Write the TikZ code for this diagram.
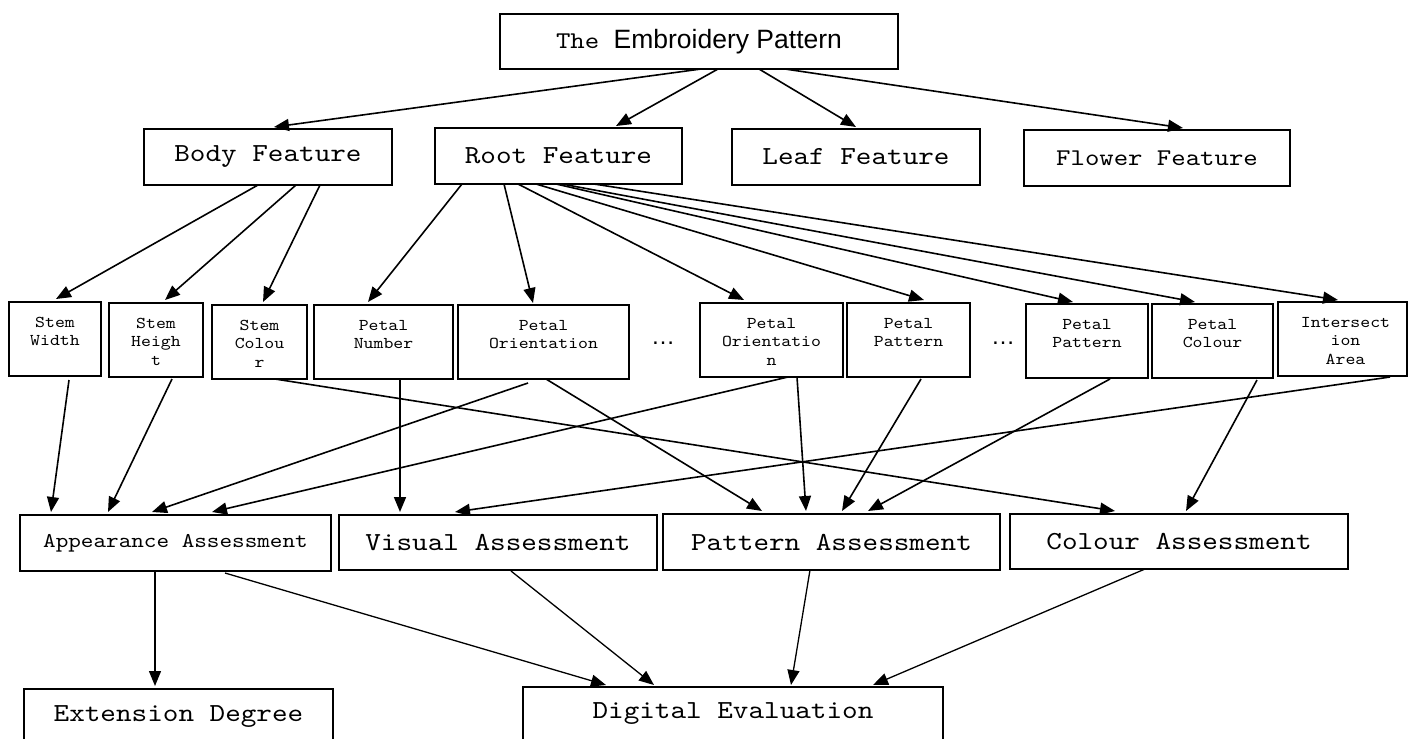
\documentclass[tikz,border=0pt]{standalone}
\usepackage{fontspec}
\newfontfamily\monof{lmmono10-regular}[Extension=.otf, FakeStretch=1.143]
\newfontfamily\sansf{Liberation Sans}
\usetikzlibrary{arrows.meta,calc}
\newcommand\mkbox[7]{\node[box,#6,minimum width={(#4-#2)*1bp},minimum height={(#5-#3)*1bp}] (#1) at ({(#2+#4)/2},{(#3+#5)/2}) {#7};}
\begin{document}
\begin{tikzpicture}[x=1bp,y=-1bp,
  box/.style={draw, line width=1.8bp, inner sep=0pt, outer sep=0pt, align=center},
  big/.style={font=\monof\fontsize{26bp}{30bp}\selectfont},
  flw/.style={font=\monof\fontsize{24bp}{28bp}\selectfont},
  apf/.style={font=\monof\fontsize{21bp}{25bp}\selectfont},
  midtxt/.style={font=\monof\fontsize{16.5bp}{18.5bp}\selectfont, align=center, inner sep=0pt, anchor=north},
  dotsty/.style={font=\sansf\fontsize{24bp}{28bp}\selectfont, inner sep=0pt, anchor=base},
  arr/.style={line width=1.6bp, -{Triangle[length=15bp,width=12bp]}},
  arrb/.style={line width=1.3bp, -{Triangle[length=15bp,width=12bp]}}]
\fill[white] (0,0) rectangle (1421,738);
\clip (0,0) rectangle (1421,738);
% top
\mkbox{top}{500}{14}{898}{69}{}{{\monof\fontsize{24bp}{28bp}\selectfont The\ }{\sansf\fontsize{26.5bp}{30bp}\selectfont Embroidery Pattern}}
% features
\mkbox{body}{144}{129}{392}{185}{big}{Body Feature}
\mkbox{root}{435}{128}{682}{184}{big}{Root Feature}
\mkbox{leaf}{732}{129}{980}{185}{big}{Leaf Feature}
\mkbox{flower}{1024}{130}{1290}{186}{flw}{Flower Feature}
% middle row
\mkbox{sw}{9}{302}{101}{376}{}{}
\mkbox{sh}{109}{303}{203}{377}{}{}
\mkbox{sc}{212}{305}{307}{379}{}{}
\mkbox{pn}{314}{305}{453}{379}{}{}
\mkbox{po}{458}{305}{629}{379}{}{}
\mkbox{pon}{700}{303}{843}{377}{}{}
\mkbox{pp}{847}{303}{970}{377}{}{}
\mkbox{ppb}{1026}{304}{1148}{378}{}{}
\mkbox{pc}{1152}{304}{1273}{378}{}{}
\mkbox{ia}{1278}{302}{1407}{376}{}{}
\node[midtxt] (swt) at ($(sw.north)+(0,15)$) {Stem\\Width};
\node[midtxt] (sht) at ($(sh.north)+(0,15)$) {Stem\\Heigh\\t};
\node[midtxt] (sct) at ($(sc.north)+(0,15)$) {Stem\\Colou\\r};
\node[midtxt] (pnt) at ($(pn.north)+(0,15)$) {Petal\\Number};
\node[midtxt] (pot) at ($(po.north)+(0,15)$) {Petal\\Orientation};
\node[midtxt] (pont) at ($(pon.north)+(0,15)$) {Petal\\Orientatio\\n};
\node[midtxt] (ppt) at ($(pp.north)+(0,15)$) {Petal\\Pattern};
\node[midtxt] (ppbt) at ($(ppb.north)+(0,15)$) {Petal\\Pattern};
\node[midtxt] (pct) at ($(pc.north)+(0,15)$) {Petal\\Colour};
\node[midtxt] (iat) at ($(ia.north)+(3,15)$) {Intersect\\ion\\Area};
\node[dotsty] (dotsa) at (663,344) {…};
\node[dotsty] (dotsb) at (1003,344) {…};
% assessments
\mkbox{app}{20}{515}{331}{571}{apf}{Appearance Assessment}
\mkbox{vis}{339}{515}{657}{570}{big}{Visual Assessment}
\mkbox{pat}{663}{514}{1000}{570}{big}{Pattern Assessment}
\mkbox{col}{1010}{514}{1348}{569}{big}{Colour Assessment}
% bottom
\mkbox{ext}{24}{689}{333}{745}{big}{Extension Degree}
\mkbox{dig}{523}{687}{943}{741}{big}{Digital Evaluation}
% top arrows
\draw[arr] ($(top.south west)+(201,0)$) -- ($(body.north west)+(130,-2)$);
\draw[arr] ($(top.south west)+(218,0)$) -- ($(root.north west)+(181,-2)$);
\draw[arr] ($(top.south west)+(259,0)$) -- ($(leaf.north west)+(124,-2)$);
\draw[arr] ($(top.south west)+(285,0)$) -- ($(flower.north west)+(159,-2)$);
% body arrows
\draw[arr] ($(body.south west)+(114,0)$) -- ($(sw.north west)+(47,-3)$);
\draw[arr] ($(body.south west)+(152,0)$) -- ($(sh.north west)+(56,-3)$);
\draw[arr] ($(body.south west)+(176,0)$) -- ($(sc.north west)+(51,-3)$);
% root arrows
\draw[arr] ($(root.south west)+(27,0)$) -- ($(pn.north west)+(54,-3)$);
\draw[arr] ($(root.south west)+(69,0)$) -- ($(po.north west)+(75,-2)$);
\draw[arr] ($(root.south west)+(83,0)$) -- ($(pon.north west)+(44,-3)$);
\draw[arr] ($(root.south west)+(101,0)$) -- ($(pp.north west)+(77,-3)$);
\draw[arr] ($(root.south west)+(121,0)$) -- ($(ppb.north west)+(47,-2)$);
\draw[arr] ($(root.south west)+(127,0)$) -- ($(pc.north west)+(43,-2)$);
\draw[arr] ($(root.south west)+(159,0)$) -- ($(ia.north west)+(60,-2)$);
% middle to assessments
\draw[arr] ($(sw.south west)+(60,4)$) -- ($(app.north west)+(31,-3)$);
\draw[arr] ($(sh.south west)+(63,2)$) -- ($(app.north west)+(88,-3)$);
\draw[arr] ($(sc.south west)+(63,0)$) -- ($(col.north west)+(105,-3)$);
\draw[arr] ($(pn.south west)+(86,0)$) -- ($(vis.north west)+(61,-3)$);
\draw[arr] ($(po.south west)+(70,4)$) -- ($(app.north west)+(132,-3)$);
\draw[arr] ($(po.south west)+(88,0)$) -- ($(pat.north west)+(99,-3)$);
\draw[arr] ($(pon.south west)+(88,0)$) -- ($(app.north west)+(192,-3)$);
\draw[arr] ($(pon.south west)+(97,0)$) -- ($(pat.north west)+(143,-3)$);
\draw[arr] ($(pp.south west)+(74,2)$) -- ($(pat.north west)+(179,-3)$);
\draw[arr] ($(ppb.south west)+(84,1)$) -- ($(pat.north west)+(205,-3)$);
\draw[arr] ($(pc.south west)+(105,2)$) -- ($(col.north west)+(176,-3)$);
\draw[arr] ($(ia.south west)+(112,1)$) -- ($(vis.north west)+(116,-3)$);
% bottom arrows
\draw[arrb] ($(app.south west)+(135,0)$) -- ($(ext.north west)+(131,-3)$);
\draw[arrb] ($(app.south west)+(205,2)$) -- ($(dig.north west)+(83,-2)$);
\draw[arrb] ($(vis.south west)+(172,1)$) -- ($(dig.north west)+(131,-2)$);
\draw[arrb] ($(pat.south west)+(147,0)$) -- ($(dig.north west)+(268,-2)$);
\draw[arrb] ($(col.south west)+(135,0)$) -- ($(dig.north west)+(350,-2)$);
\end{tikzpicture}
\end{document}
